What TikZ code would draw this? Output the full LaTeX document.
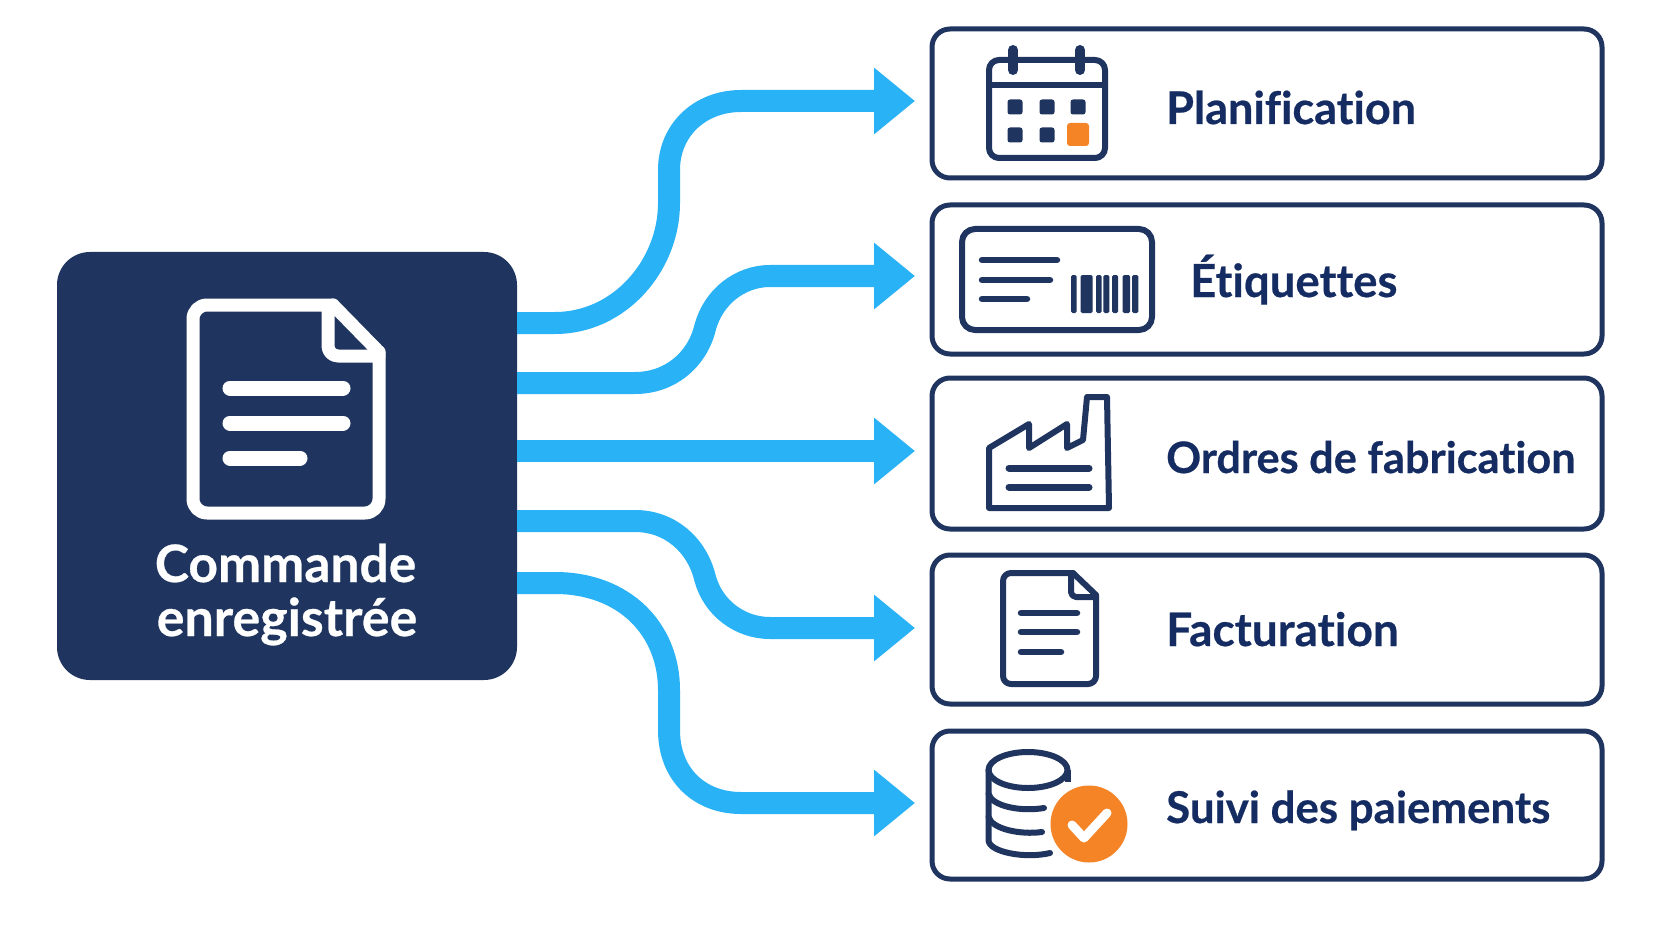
\documentclass[tikz,border=0pt]{standalone}
\usepackage{fontspec}
\setmainfont{Lato}[BoldFont={Lato Bold},BoldFeatures={FakeBold=0.5},Ligatures=NoCommon]
\usetikzlibrary{arrows.meta}
\definecolor{navy}{HTML}{1F355F}
\definecolor{inkblue}{HTML}{152C62}
\definecolor{sky}{HTML}{29B2F6}
\definecolor{amber}{HTML}{F58427}
\newcommand{\lab}[1]{\bfseries\fontsize{#1}{50}\selectfont}
\tikzset{
  x=1pt,y=-1pt,
  flow/.style={draw=sky,line width=22pt,-{Triangle[length=41pt,width=64pt]}},
  card/.style={draw=navy,line width=5pt,fill=white,rounded corners=18pt,minimum width=670pt,inner sep=0pt,outer sep=0pt,anchor=north west},
  cardtext/.style={anchor=base west,inner sep=0pt,text=inkblue},
  ico/.style={draw=navy,line width=6pt,line join=round,line cap=round},
  icofine/.style={draw=navy,line width=6.5pt,line cap=round},
  wico/.style={draw=white,line width=13pt,line join=round,line cap=round},
  wline/.style={draw=white,line width=15pt,line cap=round},
}
\begin{document}
\begin{tikzpicture}
\useasboundingbox (0,0) rectangle (1672,941);
\fill[white] (0,0) rectangle (1672,941);
% main
\node[fill=navy,rounded corners=33pt,minimum width=460pt,minimum height=428pt,inner sep=0pt,outer sep=0pt,anchor=north west] (main) at (57,252) {};
\node[anchor=base,inner sep=0pt,text=white,font=\lab{51.5}] (mainA) at (285.5,582) {Commande};
\node[anchor=base,inner sep=0pt,text=white,font=\lab{52}] (mainB) at (287,636) {enregistrée};
% main icon
\draw[wico,rounded corners=14pt] (333,305) -- (193,305) -- (193,513) -- (379,513) -- (379,352);
\draw[wico] (333,305) -- (379,352);
\draw[wico,rounded corners=10pt] (328,306) -- (328,356) -- (379,356);
\draw[wline] (230,388) -- (343,388);
\draw[wline] (230,423) -- (343,423);
\draw[wline] (230,458) -- (300,458);
% cards
\node[card,minimum height=149pt] (c1) at (932,29) {};
\node[card,minimum height=149pt] (c2) at (932,205) {};
\node[card,minimum height=151pt] (c3) at (932,378) {};
\node[card,minimum height=149pt] (c4) at (932,555) {};
\node[card,minimum height=148pt] (c5) at (932,731) {};
\node[cardtext,font=\lab{45}] (t1) at (1166,124) {Planification};
\node[cardtext,font=\lab{45.5}] (t2) at (1190,297) {Étiquettes};
\node[cardtext,font=\lab{43.3}] (t3) at (1166,473) {Ordres de fabrication};
\node[cardtext,font=\lab{46}] (t4) at (1166,646) {Facturation};
\node[cardtext,font=\lab{43.8}] (t5) at (1166,823) {Suivi des paiements};
% connectors
\coordinate (s1) at (main.east |- 0,323);
\coordinate (s2) at (main.east |- 0,383);
\coordinate (s3) at (main.east |- 0,451);
\coordinate (s4) at (main.east |- 0,521);
\coordinate (s5) at (main.east |- 0,583);
\coordinate (e1) at (915,101);
\coordinate (e2) at (915,276);
\coordinate (e3) at (915,451);
\coordinate (e4) at (915,628);
\coordinate (e5) at (915,803);
\draw[flow] (s1) -- (555,323) .. controls (620,323) and (669,265) .. (669,203) -- (669,170) .. controls (669,130) and (700,101) .. (741,101) -- (e1);
\draw[flow] (s2) -- (635,383) .. controls (670,383) and (697,360) .. (705,328) .. controls (713,297) and (740,276) .. (770,276) -- (e2);
\draw[flow] (s3) -- (e3);
\draw[flow] (s4) -- (635,521) .. controls (670,521) and (697,545) .. (705,578) .. controls (713,608) and (740,628) .. (770,628) -- (e4);
\draw[flow] (s5) -- (555,583) .. controls (625,583) and (669,630) .. (669,690) -- (669,730) .. controls (669,775) and (700,803) .. (741,803) -- (e5);
% calendar
\draw[ico,rounded corners=10pt] (989,60) rectangle (1105,158);
\draw[ico] (989,85) -- (1105,85);
\draw[navy,line width=10pt,line cap=round] (1013,50) -- (1013,70);
\draw[navy,line width=10pt,line cap=round] (1080,50) -- (1080,70);
\foreach \cx in {1015,1047,1078} \fill[navy,rounded corners=2.5pt] (\cx-7.5,99.5) rectangle (\cx+7.5,114.5);
\foreach \cx in {1015,1047} \fill[navy,rounded corners=2.5pt] (\cx-7.5,127.5) rectangle (\cx+7.5,142.5);
\fill[amber,rounded corners=3pt] (1067,123) rectangle (1089,146);
% label
\draw[ico,rounded corners=13pt] (962,229) rectangle (1152,330);
\draw[icofine] (982,260) -- (1057,260);
\draw[icofine] (982,280) -- (1050,280);
\draw[icofine] (982,299) -- (1027,299);
\foreach \xa/\xb in {423/440,452/488,498/515,520/538,546/564,578/600,606/625}
  \fill[navy,rounded corners=1.5pt] (930+\xa/3,275) rectangle (930+\xb/3,313);
% factory
\draw[ico,line cap=butt] (989,508) -- (989,448) -- (1029,424) -- (1029,448) -- (1067,424) -- (1067,448) -- (1083,440) -- (1087,397) -- (1107,397) -- (1109,508) -- cycle;
\draw[icofine,line width=7pt] (1009,468) -- (1089,468);
\draw[icofine,line width=7pt] (1009,487) -- (1089,487);
% invoice
\draw[ico,rounded corners=8pt] (1073,573) -- (1003,573) -- (1003,684) -- (1096,684) -- (1096,595);
\draw[ico] (1073,573) -- (1096,595);
\draw[ico,rounded corners=5pt] (1071,574) -- (1071,597) -- (1095,597);
\draw[icofine] (1021,613) -- (1077,613);
\draw[icofine] (1021,632) -- (1077,632);
\draw[icofine] (1021,652) -- (1061,652);
% database
\draw[ico] (1028,770) ellipse [x radius=39.5,y radius=18];
\draw[ico,line cap=butt] (1067.5,770) -- (1067.5,782);
\draw[ico] (988.5,770) -- (988.5,840) .. controls (988.5,852) and (1025,859) .. (1050,853);
\draw[ico] (988.5,794) .. controls (992,806) and (1020,812) .. (1044,808);
\draw[ico] (988.5,817) .. controls (992,829) and (1020,835) .. (1042,832);
\fill[amber] (1089,824) circle (38.5);
\draw[white,line width=9pt,line cap=round,line join=round] (1072,825) -- (1084,838) -- (1107,813);
\end{tikzpicture}
\end{document}
